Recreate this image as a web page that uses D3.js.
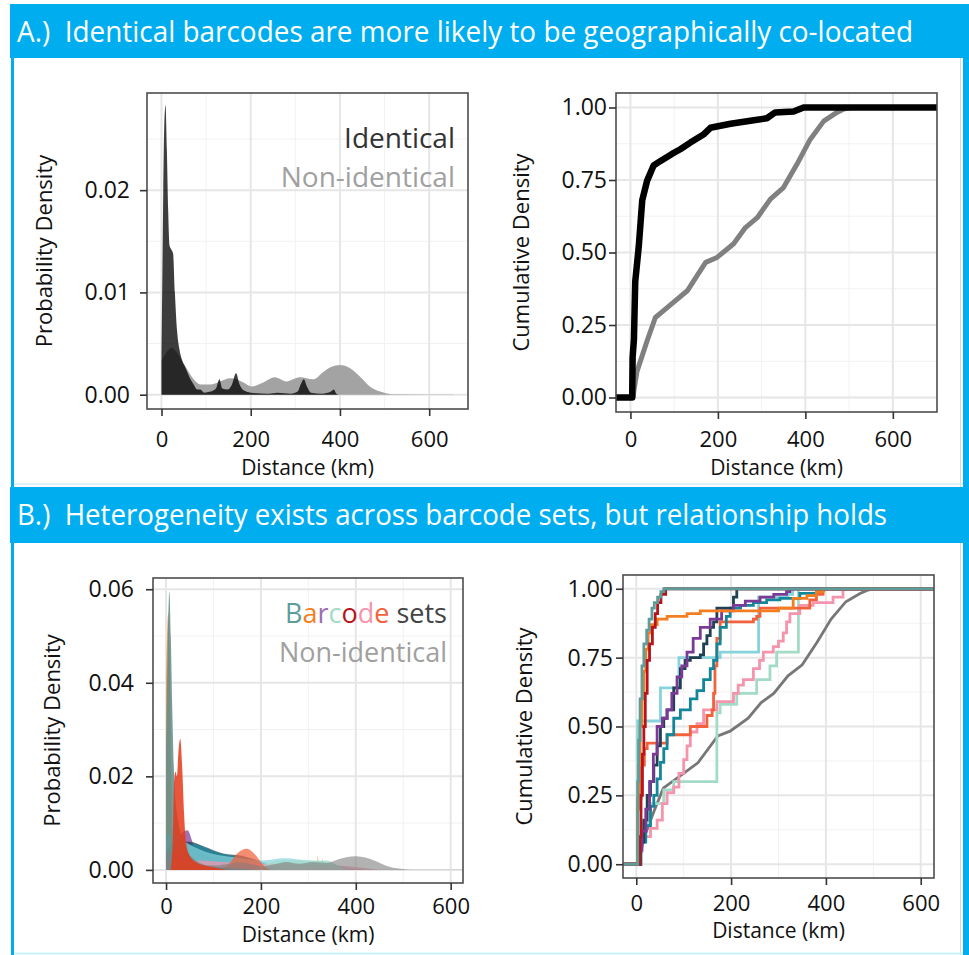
<!DOCTYPE html>
<html>
<head>
<meta charset="utf-8">
<script src="https://cdn.jsdelivr.net/npm/d3@7"></script>
<style>
body { margin: 0; background: #fff; }
svg { display: block; font-family: "Open Sans", sans-serif; }
</style>
</head>
<body>
<div id="fig"></div>
<script>

// section titles
var titleA = "A.)  Identical barcodes are more likely to be geographically co-located";
var titleB = "B.)  Heterogeneity exists across barcode sets, but relationship holds";

// ticks
var distTicks = [0, 200, 400, 600];
var distMinor = [100, 300, 500];
var densTicksA = [0, 0.01, 0.02];
var densMinorA = [0.005, 0.015, 0.025];
var densTicksB = [0, 0.02, 0.04, 0.06];
var densMinorB = [0.01, 0.03, 0.05];
var cumTicks = [0, 0.25, 0.5, 0.75, 1];
var cumMinor = [0.125, 0.375, 0.625, 0.875];

// A: density of distances, [km, density]
var identicalDens = [[0,0.004],[2,0.012],[4,0.020],[6,0.026],[9,0.0283],[12,0.024],[15,0.018],[18,0.0146],[22,0.0142],[26,0.0138],[30,0.010],[35,0.0062],[40,0.0045],[46,0.0034],[52,0.0028],[57,0.0023],[65,0.0015],[72,0.0010],[80,0.0005],[87,0.0005],[95,0.0002],[110,0.0003],[122,0.0006],[130,0.0015],[136,0.0006],[148,0.0005],[158,0.0010],[167,0.0021],[175,0.0010],[185,0.0004],[200,0.0002],[240,0.0001],[260,0.0002],[290,0.0001],[305,0.0003],[312,0.0010],[319,0.0015],[326,0.0008],[335,0.0002],[360,0.0001],[380,0.0003],[386,0.0005],[392,0.0001],[398,0]];
var nonIdenticalDens = [[0,0.0033],[12,0.0042],[24,0.0046],[33,0.0042],[45,0.0034],[57,0.0025],[72,0.0015],[87,0.0010],[109,0.0010],[131,0.0013],[154,0.0016],[184,0.0012],[202,0.0008],[228,0.0012],[254,0.0017],[280,0.0013],[310,0.0017],[340,0.0015],[362,0.0022],[380,0.0027],[400,0.0029],[422,0.0026],[444,0.0018],[467,0.0008],[490,0.0003],[508,0.0001],[526,0.00005],[655,0.00003]];

// A: cumulative density, [km, fraction]
var identicalCdf = [[0,0],[4,0],[5,0.14],[8,0.2],[11,0.4],[19,0.52],[27,0.68],[38,0.747],[53,0.8],[68,0.815],[95,0.84],[114,0.856],[137,0.879],[168,0.908],[183,0.93],[229,0.944],[282,0.956],[312,0.963],[331,0.983],[373,0.986],[396,1],[668,1]];
var nonIdenticalCdf = [[0,0],[6,0],[8,0.024],[15,0.09],[38,0.195],[57,0.276],[84,0.31],[130,0.368],[172,0.466],[198,0.483],[236,0.53],[263,0.586],[290,0.62],[320,0.684],[350,0.724],[381,0.805],[411,0.89],[442,0.953],[472,0.983],[488,0.995],[503,1],[668,1]];

// B: barcode sets
var setNames = ["set1", "set2", "set3", "set4", "set5", "set6", "set7", "set8", "set9", "set10"];
var setColors = ["#5e9c99", "#b8141c", "#f47d20", "#7b3a96", "#1f4152", "#14869a", "#f2603c", "#86d3dc", "#f494ad", "#a3dbc6"];
var spikeRed = "#e43a1a";
var spikeTeal = "#5d8c89";

var setDens = [
  [[0,0.025],[3,0.045],[7,0.0595],[10,0.05],[13,0.035],[17,0.02],[22,0.013],[28,0.009],[38,0.006],[50,0.003],[80,0.001],[120,0.0005],[200,0]],
  [[10,0],[14,0.006],[17,0.019],[20,0.021],[23,0.02],[26,0.025],[30,0.028],[34,0.022],[38,0.012],[42,0.006],[50,0.003],[65,0.0015],[90,0.0008],[130,0]],
  [[0,0.04],[2,0.05],[5,0.055],[8,0.045],[11,0.02],[14,0.006],[20,0.002],[60,0.0005],[300,0.0003],[318,0.0003],[320,0.003],[322,0.0003],[328,0.0003],[330,0.0025],[332,0.0003],[400,0.0002],[420,0]],
  [[0,0.002],[20,0.005],[35,0.008],[45,0.0085],[60,0.005],[90,0.003],[120,0.0025],[150,0.002],[190,0.0008],[230,0]],
  [[0,0.004],[25,0.006],[50,0.006],[80,0.005],[120,0.0035],[160,0.003],[200,0.0015],[240,0.0005],[280,0]],
  [[0,0.003],[30,0.005],[60,0.0055],[100,0.004],[140,0.003],[180,0.0025],[220,0.001],[260,0]],
  [[100,0],[130,0.001],[150,0.0035],[170,0.0045],[190,0.003],[205,0.001],[220,0]],
  [[0,0.0075],[20,0.0075],[40,0.006],[80,0.004],[120,0.003],[160,0.0025],[200,0.002],[250,0.0025],[300,0.002],[340,0.0018],[360,0.001],[400,0]],
  [[0,0.002],[60,0.002],[150,0.0015],[250,0.0012],[350,0.001],[420,0.0004],[450,0]],
  [[180,0],[220,0.0015],[260,0.002],[300,0.002],[340,0.002],[360,0.001],[380,0]]
];

var setCdf = [
  [[0,0],[3,0.3],[5,0.45],[8,0.6],[12,0.72],[16,0.8],[22,0.85],[27,0.89],[33,0.93],[38,0.95],[45,0.97],[52,0.99],[58,1]],
  [[0,0],[8,0.1],[10,0.25],[13,0.4],[16,0.5],[19,0.62],[23,0.74],[28,0.8],[34,0.86],[40,0.91],[45,0.95],[52,0.98],[62,1]],
  [[0,0],[3,0.2],[5,0.36],[8,0.5],[12,0.6],[16,0.7],[20,0.78],[25,0.84],[30,0.87],[44,0.89],[65,0.9],[107,0.91],[135,0.92],[247,0.92],[300,0.93],[331,0.965],[360,0.975],[380,0.99],[394,1]],
  [[0,0],[5,0.05],[12,0.12],[20,0.2],[28,0.3],[36,0.4],[44,0.5],[55,0.53],[65,0.56],[75,0.62],[86,0.68],[96,0.72],[107,0.77],[120,0.82],[135,0.86],[156,0.89],[180,0.92],[205,0.94],[230,0.955],[261,0.97],[290,0.98],[317,0.99],[324,1]],
  [[0,0],[8,0.08],[16,0.16],[23,0.25],[30,0.3],[37,0.36],[44,0.43],[51,0.5],[58,0.53],[65,0.56],[79,0.64],[93,0.71],[103,0.74],[114,0.75],[135,0.76],[142,0.8],[149,0.83],[156,0.86],[163,0.88],[170,0.93],[198,0.93],[205,0.97],[212,1]],
  [[0,0],[10,0.08],[20,0.14],[30,0.21],[37,0.25],[44,0.31],[51,0.37],[58,0.42],[65,0.47],[79,0.53],[93,0.56],[114,0.6],[128,0.63],[142,0.67],[156,0.71],[163,0.74],[170,0.8],[177,0.86],[190,0.9],[198,0.93],[220,0.94],[247,0.95],[275,0.96],[303,0.965],[345,0.983],[380,0.993],[394,1]],
  [[0,0],[3,0.24],[10,0.36],[17,0.42],[23,0.44],[58,0.44],[65,0.47],[107,0.47],[114,0.5],[142,0.5],[149,0.54],[160,0.56],[163,0.62],[166,0.72],[170,0.82],[177,0.88],[240,0.88],[247,0.89],[254,0.9],[261,0.93],[345,0.93],[366,0.96],[380,0.98],[394,1]],
  [[0,0],[3,0.52],[44,0.52],[51,0.64],[86,0.64],[90,0.75],[163,0.75],[177,0.77],[254,0.77],[258,0.97],[320,0.98],[330,1]],
  [[0,0],[9,0.1],[30,0.13],[44,0.16],[55,0.22],[65,0.26],[79,0.28],[90,0.33],[100,0.38],[107,0.43],[114,0.48],[128,0.51],[142,0.56],[170,0.59],[205,0.62],[215,0.65],[226,0.67],[247,0.71],[260,0.74],[268,0.77],[289,0.79],[300,0.81],[310,0.84],[317,0.88],[324,0.91],[345,0.94],[373,0.95],[415,0.97],[436,1]],
  [[0,0],[5,0.08],[15,0.15],[30,0.22],[58,0.27],[79,0.3],[163,0.3],[170,0.55],[177,0.58],[205,0.58],[212,0.62],[247,0.62],[254,0.67],[275,0.67],[282,0.72],[296,0.77],[338,0.77],[342,1]]
];

var barcodeLetters = ["B", "a", "r", "c", "o", "d", "e"];
var letterColors = ["#5e9c99", "#f47d20", "#9b6fb0", "#a3dbc6", "#b8141c", "#f494ad", "#f2603c"];

var blue = "#00aeef";
var W = 969, H = 955;

var svg = d3.select("#fig").append("svg")
  .attr("width", W)
  .attr("height", H);

// header bars and frames
function header(y, h, text, len) {
  svg.append("rect").attr("x", 10).attr("y", y).attr("width", W - 10).attr("height", h).attr("fill", blue);
  svg.append("text")
    .attr("x", 17).attr("y", y + 38)
    .attr("font-size", 29)
    .attr("fill", "#fff")
    .attr("textLength", len)
    .attr("lengthAdjust", "spacingAndGlyphs")
    .style("white-space", "pre")
    .text(text);
}
function frame(y0, y1) {
  svg.append("rect").attr("x", 11).attr("y", y0).attr("width", 3).attr("height", y1 - y0).attr("fill", blue);
  svg.append("rect").attr("x", 963).attr("y", y0).attr("width", 6).attr("height", y1 - y0).attr("fill", blue);
  svg.append("line").attr("x1", 960.5).attr("x2", 960.5).attr("y1", y0).attr("y2", y1).attr("stroke", "#d8d8d8");
}
frame(58, 487);
frame(543, 955);
svg.append("line").attr("x1", 14).attr("x2", 963).attr("y1", 484).attr("y2", 484).attr("stroke", "#d3edf7").attr("stroke-width", 1.5);
svg.append("line").attr("x1", 14).attr("x2", 963).attr("y1", 953.5).attr("y2", 953.5).attr("stroke", "#c9f1fb").attr("stroke-width", 2);
header(4, 54, titleA, 896);
header(487, 56, titleB, 870);

var clipId = 0;
function panel(o) {
  var x = d3.scaleLinear().domain(o.xDomain).range([o.left, o.right]);
  var y = d3.scaleLinear().domain(o.yDomain).range([o.bottom, o.top]);
  var g = svg.append("g");

  g.append("rect").attr("x", o.left).attr("y", o.top)
    .attr("width", o.right - o.left).attr("height", o.bottom - o.top).attr("fill", "#fff");

  g.selectAll(".vminor").data(distMinor).join("line")
    .attr("x1", d => x(d)).attr("x2", d => x(d)).attr("y1", o.top).attr("y2", o.bottom)
    .attr("stroke", "#f2f2f2").attr("stroke-width", 1);
  g.selectAll(".hminor").data(o.yMinor).join("line")
    .attr("y1", d => y(d)).attr("y2", d => y(d)).attr("x1", o.left).attr("x2", o.right)
    .attr("stroke", "#f2f2f2").attr("stroke-width", 1);
  g.selectAll(".vmajor").data(distTicks).join("line")
    .attr("x1", d => x(d)).attr("x2", d => x(d)).attr("y1", o.top).attr("y2", o.bottom)
    .attr("stroke", "#e6e6e6").attr("stroke-width", 2);
  g.selectAll(".hmajor").data(o.yTicks).join("line")
    .attr("y1", d => y(d)).attr("y2", d => y(d)).attr("x1", o.left).attr("x2", o.right)
    .attr("stroke", "#e6e6e6").attr("stroke-width", 2);

  clipId++;
  svg.append("clipPath").attr("id", "clip" + clipId)
    .append("rect").attr("x", o.left).attr("y", o.top)
    .attr("width", o.right - o.left).attr("height", o.bottom - o.top);
  var marks = g.append("g").attr("clip-path", "url(#clip" + clipId + ")");

  return { g: g, marks: marks, x: x, y: y, o: o };
}

function finish(p) {
  var o = p.o, g = p.g;
  g.append("rect").attr("x", o.left).attr("y", o.top)
    .attr("width", o.right - o.left).attr("height", o.bottom - o.top)
    .attr("fill", "none").attr("stroke", "#4d4d4d").attr("stroke-width", 1.6);

  var ax = g.append("g").attr("transform", "translate(0," + o.bottom + ")")
    .call(d3.axisBottom(p.x).tickValues(distTicks).tickSize(7).tickPadding(o.xPad).tickFormat(d3.format("d")));
  var ay = g.append("g").attr("transform", "translate(" + o.left + ",0)")
    .call(d3.axisLeft(p.y).tickValues(o.yTicks).tickSize(7).tickPadding(o.yPad).tickFormat(d3.format(".2f")));
  [ax, ay].forEach(function (a) {
    a.select(".domain").remove();
    a.selectAll("line").attr("stroke", "#333").attr("stroke-width", 1.6);
    a.selectAll("text").attr("font-family", "Open Sans").attr("font-size", 23).attr("fill", "#111");
  });
  ax.selectAll("text").attr("font-size", 22);

  g.append("text")
    .attr("x", (o.left + o.right) / 2).attr("y", o.xLabelY)
    .attr("text-anchor", "middle").attr("font-size", 21).attr("fill", "#111")
    .text("Distance (km)");
  g.append("text")
    .attr("transform", "translate(" + o.yLabelX + "," + ((o.top + o.bottom) / 2) + ") rotate(-90)")
    .attr("text-anchor", "middle").attr("font-size", 22).attr("fill", "#111")
    .text(o.yLabel);
}

function densArea(p) {
  return d3.area()
    .x(d => p.x(d[0]))
    .y0(p.y(0))
    .y1(d => p.y(d[1]))
    .curve(d3.curveMonotoneX);
}
function cdfLine(p, curve) {
  var x0 = p.x.domain()[0], x1 = p.x.domain()[1];
  var line = d3.line().x(d => p.x(d[0])).y(d => p.y(d[1])).curve(curve);
  return function (data) {
    return line([[x0, 0]].concat(data).concat([[x1, 1]]));
  };
}

// ---- A left: probability density
var pA1 = panel({
  left: 147, right: 468, top: 93, bottom: 409,
  xDomain: [-32.5, 687], yDomain: [-0.0014, 0.0295],
  yTicks: densTicksA, yMinor: densMinorA,
  xPad: 15, yPad: 10, xLabelY: 475, yLabelX: 52,
  yLabel: "Probability Density"
});
pA1.marks.append("path").datum(nonIdenticalDens).attr("d", densArea(pA1)).attr("fill", "#a3a3a3");
pA1.marks.append("path").datum(identicalDens).attr("d", densArea(pA1)).attr("fill", "#000").attr("fill-opacity", 0.76);
pA1.g.append("text").attr("x", 455).attr("y", 148).attr("text-anchor", "end")
  .attr("font-size", 28).attr("fill", "#333").text("Identical");
pA1.g.append("text").attr("x", 455).attr("y", 187).attr("text-anchor", "end")
  .attr("font-size", 28).attr("fill", "#a0a0a0").text("Non-identical");
finish(pA1);

// ---- A right: cumulative density
var pA2 = panel({
  left: 616, right: 937, top: 93, bottom: 412,
  xDomain: [-33, 701], yDomain: [-0.05, 1.05],
  yTicks: cumTicks, yMinor: cumMinor,
  xPad: 12, yPad: 2, xLabelY: 475, yLabelX: 529,
  yLabel: "Cumulative Density"
});
pA2.marks.append("path").attr("d", cdfLine(pA2, d3.curveLinear)(nonIdenticalCdf))
  .attr("fill", "none").attr("stroke", "#808080").attr("stroke-width", 5).attr("stroke-linejoin", "round");
pA2.marks.append("path").attr("d", cdfLine(pA2, d3.curveLinear)(identicalCdf))
  .attr("fill", "none").attr("stroke", "#000").attr("stroke-width", 6.5).attr("stroke-linejoin", "round");
finish(pA2);

// ---- B left: densities per barcode set
var pB1 = panel({
  left: 153, right: 463, top: 578, bottom: 883,
  xDomain: [-27.5, 626], yDomain: [-0.0028, 0.0624],
  yTicks: densTicksB, yMinor: densMinorB,
  xPad: 8, yPad: 12, xLabelY: 942, yLabelX: 60,
  yLabel: "Probability Density"
});
var densOrder = [2, 3, 4, 5, 7, 8, 9, 6];
pB1.marks.selectAll(".set").data(densOrder).join("path")
  .attr("d", i => densArea(pB1)(setDens[i]))
  .attr("fill", i => setColors[i]).attr("fill-opacity", 0.72);
pB1.marks.append("path").datum(setDens[0]).attr("d", densArea(pB1))
  .attr("fill", spikeTeal).attr("fill-opacity", 0.85);
pB1.marks.append("path").datum(nonIdenticalDens).attr("d", densArea(pB1))
  .attr("fill", "#7f7f7f").attr("fill-opacity", 0.6);
pB1.marks.append("path").datum(setDens[1]).attr("d", densArea(pB1))
  .attr("fill", spikeRed).attr("fill-opacity", 0.85);
var lg = pB1.g.append("text").attr("x", 447).attr("y", 623).attr("text-anchor", "end").attr("font-size", 27);
lg.selectAll("tspan").data(barcodeLetters).join("tspan")
  .attr("fill", (d, i) => letterColors[i]).text(d => d);
lg.append("tspan").attr("fill", "#444").text(" sets");
pB1.g.append("text").attr("x", 447).attr("y", 662).attr("text-anchor", "end")
  .attr("font-size", 27).attr("fill", "#a0a0a0").text("Non-identical");
finish(pB1);

// ---- B right: cumulative per barcode set
var pB2 = panel({
  left: 623, right: 934, top: 575, bottom: 878,
  xDomain: [-28, 628], yDomain: [-0.05, 1.05],
  yTicks: cumTicks, yMinor: cumMinor,
  xPad: 10, yPad: 3, xLabelY: 938, yLabelX: 532,
  yLabel: "Cumulative Density"
});
pB2.marks.append("path").attr("d", cdfLine(pB2, d3.curveLinear)(nonIdenticalCdf))
  .attr("fill", "none").attr("stroke", "#777").attr("stroke-width", 2.8);
var drawOrder = [9, 8, 7, 6, 5, 4, 3, 2, 1, 0];
pB2.marks.selectAll(".cdf").data(drawOrder).join("path")
  .attr("d", i => cdfLine(pB2, d3.curveStepAfter)(setCdf[i]))
  .attr("fill", "none").attr("stroke", i => setColors[i]).attr("stroke-width", 2.8);
finish(pB2);

</script>
</body>
</html>
